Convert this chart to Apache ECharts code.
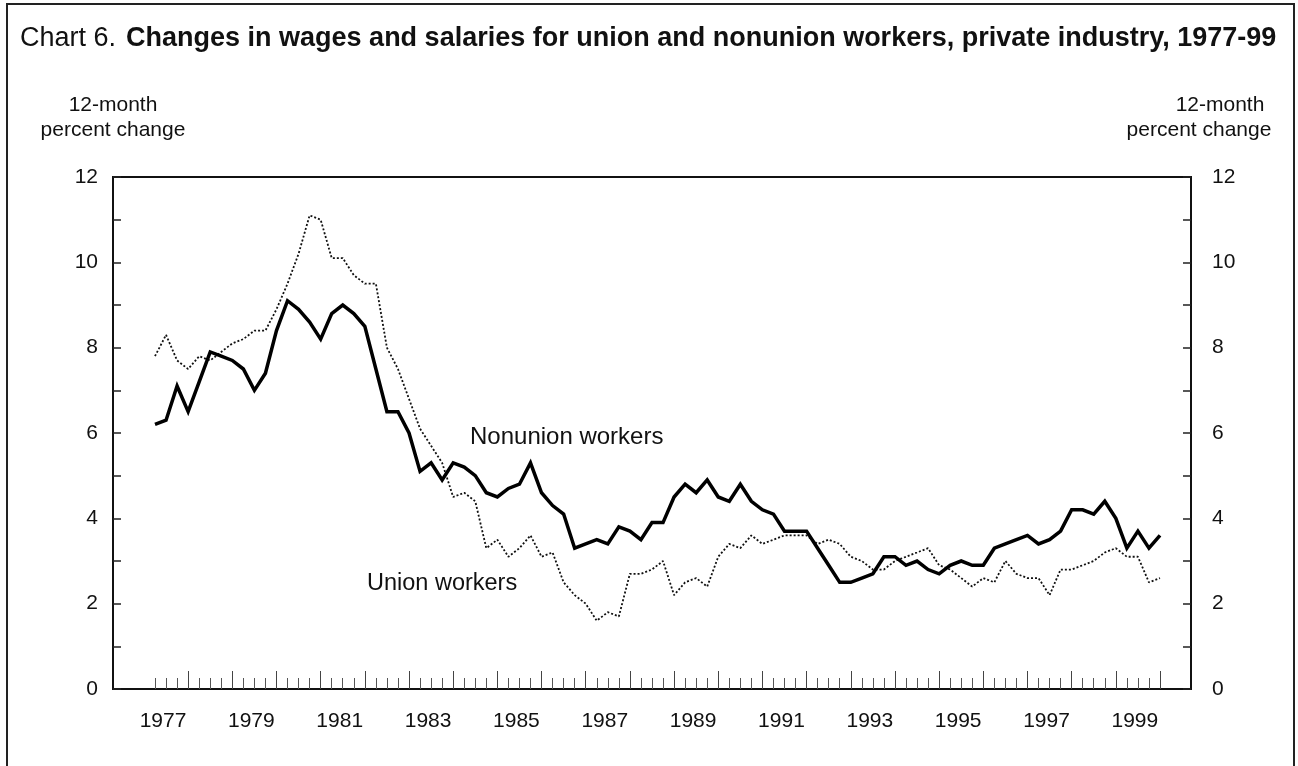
<!DOCTYPE html>
<html>
<head>
<meta charset="utf-8">
<script src="https://cdn.jsdelivr.net/npm/echarts@6/dist/echarts.min.js"></script>
<style>
  html, body { margin: 0; padding: 0; background: #fff; }
  #wrap { position: relative; width: 1298px; height: 766px; overflow: hidden; }
  #chart { position: absolute; left: 0; top: 0; width: 1298px; height: 766px; }
  #frame { position: absolute; left: 6px; top: 3px; width: 1285px; height: 800px;
           border: 2px solid #222; border-bottom: none; pointer-events: none; }
</style>
</head>
<body>
<div id="wrap">
  <div id="chart"></div>
  <div id="frame"></div>
</div>
<script>
(function(){
  // quarterly, 1977 Q1 .. 1999 Q4
  const years = [];
  for (let y = 1977; y <= 1999; y++) years.push(y);
  const quarters = [];
  years.forEach(y => { for (let q = 1; q <= 4; q++) quarters.push(y + ' Q' + q); });

  const nonunion = [
    6.2, 6.3, 7.1, 6.5,  7.2, 7.9, 7.8, 7.7,  7.5, 7.0, 7.4, 8.4,  9.1, 8.9, 8.6, 8.2,
    8.8, 9.0, 8.8, 8.5,  7.5, 6.5, 6.5, 6.0,  5.1, 5.3, 4.9, 5.3,  5.2, 5.0, 4.6, 4.5,
    4.7, 4.8, 5.3, 4.6,  4.3, 4.1, 3.3, 3.4,  3.5, 3.4, 3.8, 3.7,  3.5, 3.9, 3.9, 4.5,
    4.8, 4.6, 4.9, 4.5,  4.4, 4.8, 4.4, 4.2,  4.1, 3.7, 3.7, 3.7,  3.3, 2.9, 2.5, 2.5,
    2.6, 2.7, 3.1, 3.1,  2.9, 3.0, 2.8, 2.7,  2.9, 3.0, 2.9, 2.9,  3.3, 3.4, 3.5, 3.6,
    3.4, 3.5, 3.7, 4.2,  4.2, 4.1, 4.4, 4.0,  3.3, 3.7, 3.3, 3.6
  ];
  const union = [
    7.8, 8.3, 7.7, 7.5,  7.8, 7.7, 7.9, 8.1,  8.2, 8.4, 8.4, 8.9,  9.5, 10.2, 11.1, 11.0,
    10.1, 10.1, 9.7, 9.5, 9.5, 8.0, 7.5, 6.8,  6.1, 5.7, 5.3, 4.5,  4.6, 4.4, 3.3, 3.5,
    3.1, 3.3, 3.6, 3.1,  3.2, 2.5, 2.2, 2.0,  1.6, 1.8, 1.7, 2.7,  2.7, 2.8, 3.0, 2.2,
    2.5, 2.6, 2.4, 3.1,  3.4, 3.3, 3.6, 3.4,  3.5, 3.6, 3.6, 3.6,  3.4, 3.5, 3.4, 3.1,
    3.0, 2.8, 2.8, 3.0,  3.1, 3.2, 3.3, 2.9,  2.8, 2.6, 2.4, 2.6,  2.5, 3.0, 2.7, 2.6,
    2.6, 2.2, 2.8, 2.8,  2.9, 3.0, 3.2, 3.3,  3.1, 3.1, 2.5, 2.6
  ];

  const FONT = '"Liberation Sans", Arial, sans-serif';
  const txt = { color: '#111', fontFamily: FONT, fontSize: 21 };

  const chart = echarts.init(document.getElementById('chart'), null, { renderer: 'canvas' });

  const yBox = (pos) => ({
    type: 'value', gridIndex: 0, position: pos,
    min: 0, max: 12, interval: 1,
    name: pos === 'left' ? '12-month\npercent change' : '{a|12-month}\n{b|percent change}',
    nameLocation: 'end', nameGap: 34,
    nameTextStyle: Object.assign({
      lineHeight: 25, align: 'center',
      rich: {
        a: Object.assign({ lineHeight: 25, padding: [0, 0, 0, 58] }, txt),
        b: Object.assign({ lineHeight: 25, padding: [0, 0, 0, 16] }, txt)
      }
    }, txt),
    axisLine: { show: false },
    axisTick: { show: true, inside: true, length: 8, lineStyle: { color: '#222', width: 1.5 } },
    axisLabel: Object.assign({ margin: pos === 'left' ? 15 : 21, formatter: v => v % 2 === 0 ? String(v) : '' }, txt),
    splitLine: { show: false }
  });

  chart.setOption({
    animation: false,
    title: {
      left: 15, top: 20,
      text: '{a|Chart 6.}  {b|Changes in wages and salaries for union and nonunion workers, private industry, 1977-99}',
      textStyle: {
        rich: {
          a: { fontFamily: FONT, fontSize: 27, fontWeight: 'normal', color: '#111' },
          b: { fontFamily: FONT, fontSize: 27, fontWeight: 'bold', color: '#111' }
        }
      }
    },
    grid: [
      { left: 113, right: 107, top: 177, bottom: 77, show: true, borderColor: '#111', borderWidth: 2, backgroundColor: 'transparent' },
      { left: 155, right: 138, top: 177, bottom: 77 }
    ],
    xAxis: [
      { type: 'value', gridIndex: 0, min: 0, max: 1, show: false },
      {
        type: 'category', gridIndex: 1, data: quarters, boundaryGap: false,
        axisLine: { show: false },
        axisTick: { show: true, inside: true, length: 11, interval: 0, lineStyle: { color: '#555', width: 1 } },
        axisLabel: Object.assign({
          margin: 22, interval: 0, padding: [0, 0, 0, 16],
          formatter: (v, i) => i % 8 === 0 ? v.slice(0, 4) : ''
        }, txt),
        splitLine: { show: false }
      },
      {
        type: 'category', gridIndex: 1, data: quarters, boundaryGap: false, position: 'bottom',
        axisLine: { show: false },
        axisTick: { show: true, inside: true, length: 18, interval: (i) => i % 4 === 3, lineStyle: { color: '#444', width: 1 } },
        axisLabel: { show: false },
        splitLine: { show: false }
      }
    ],
    yAxis: [
      yBox('left'),
      yBox('right'),
      { type: 'value', gridIndex: 1, min: 0, max: 12, show: false }
    ],
    graphic: [
      { type: 'text', left: 470, top: 425, style: { text: 'Nonunion workers', fill: '#111', font: '24px ' + FONT } },
      { type: 'text', left: 367, top: 572, style: { text: 'Union workers', fill: '#111', font: '23.5px ' + FONT } }
    ],
    series: [
      {
        name: 'Union workers', type: 'line', xAxisIndex: 1, yAxisIndex: 2,
        data: union, showSymbol: false, silent: true,
        lineStyle: { color: '#111', width: 1.8, type: [2, 2] }
      },
      {
        name: 'Nonunion workers', type: 'line', xAxisIndex: 1, yAxisIndex: 2,
        data: nonunion, showSymbol: false, silent: true,
        lineStyle: { color: '#000', width: 3.5, join: 'miter' }
      }
    ]
  });
})();
</script>
</body>
</html>
